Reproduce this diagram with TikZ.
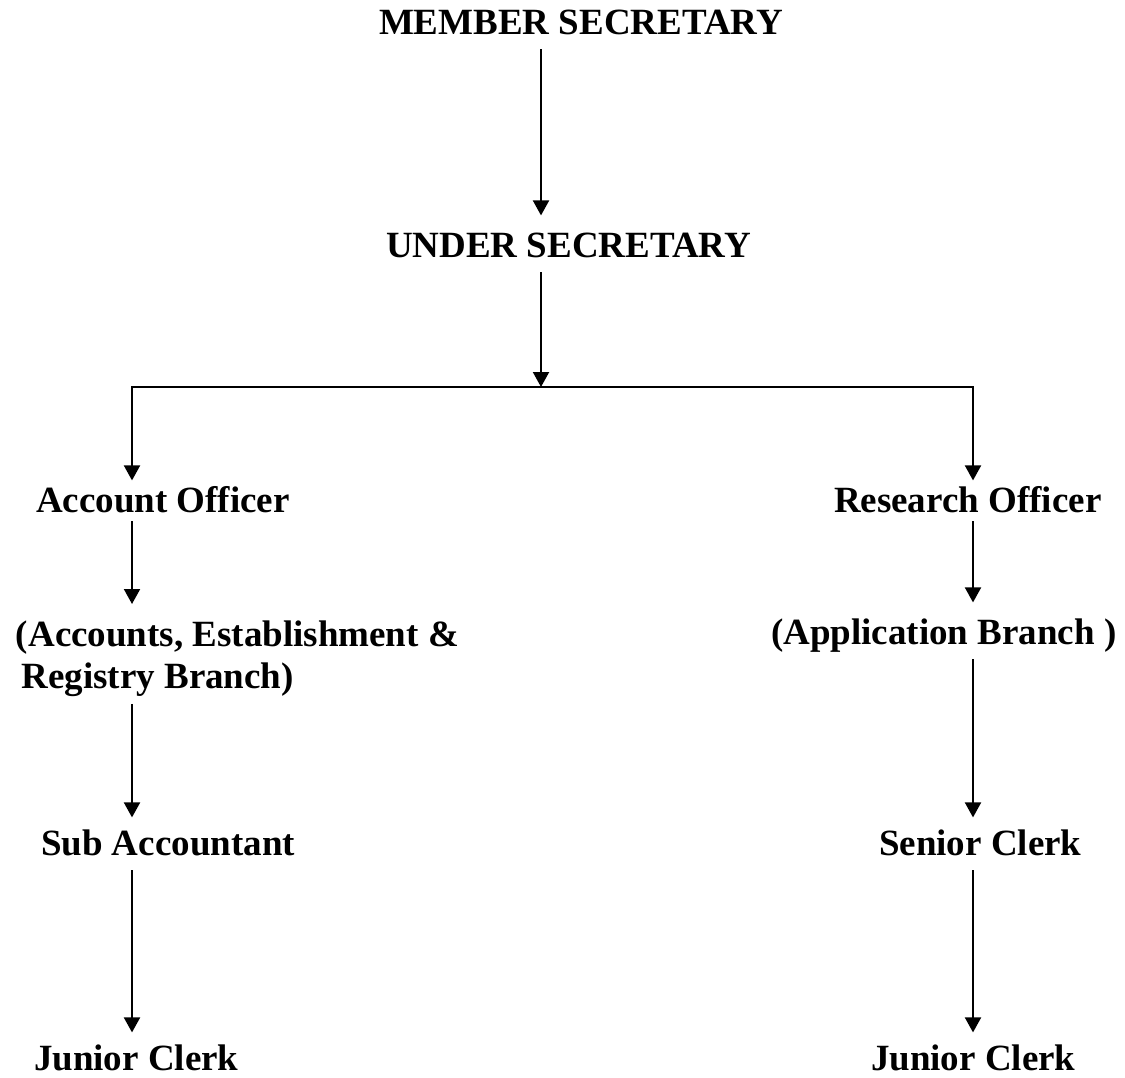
\documentclass[tikz,border=0pt]{standalone}
\usepackage{fontspec}
\setmainfont{Liberation Serif}
\usetikzlibrary{arrows.meta}

\begin{document}
\begin{tikzpicture}[x=0.5pt, y=-0.5pt, line width=1pt,
  post/.style={font=\bfseries\fontsize{18.5}{21}\selectfont, inner xsep=0pt, inner ysep=3pt},
  single/.style={post, text height=12.3pt, text depth=4pt, anchor=base west},
  flow/.style={-{Triangle[width=8pt,length=7.5pt]}, shorten >=3pt}]
  \useasboundingbox (0,0) rectangle (1125,1077);

  % top of the chart
  \node [single] (ms) at (378,34) {MEMBER SECRETARY};
  \node [single] (us) at (385,257) {UNDER SECRETARY};
  \coordinate (hub) at (541,387);
  \coordinate (hubl) at (132,387);
  \coordinate (hubr) at (973,387);

  % left branch
  \node [single] (ao) at (35,512) {Account Officer};
  \node [post, align=left, anchor=north west] (aeb) at (15,614)
    {(Accounts, Establishment \&\\\hspace*{0.15em}Registry Branch)};
  \node [single] (sa) at (40,855) {Sub Accountant};
  \node [single] (jcl) at (33,1070) {Junior Clerk};

  % right branch
  \node [single] (ro) at (833,512) {Research Officer};
  \node [single] (ab) at (770,644) {(Application Branch )};
  \node [single] (sc) at (878,855) {Senior Clerk};
  \node [single] (jcr) at (870,1070) {Junior Clerk};

  \draw [flow, shorten >=5pt] (ms.south -| hub) -- (us.north -| hub);
  \draw [flow, shorten >=0pt] (us.south -| hub) -- (hub);

  % split
  \draw [flow, shorten >=0pt] (hub) -- (hubl) -- (ao.north -| hubl);
  \draw [flow, shorten >=0pt] (hub) -- (hubr) -- (ro.north -| hubr);

  \draw [flow, shorten <=-3pt, shorten >=5pt] (ao.south -| hubl) -- (aeb.north -| hubl);
  \draw [flow] (aeb.south -| hubl) -- (sa.north -| hubl);
  \draw [flow] (sa.south -| hubl) -- (jcl.north -| hubl);

  \draw [flow, shorten <=-3pt, shorten >=5pt] (ro.south -| hubr) -- (ab.north -| hubr);
  \draw [flow] (ab.south -| hubr) -- (sc.north -| hubr);
  \draw [flow] (sc.south -| hubr) -- (jcr.north -| hubr);
\end{tikzpicture}
\end{document}
